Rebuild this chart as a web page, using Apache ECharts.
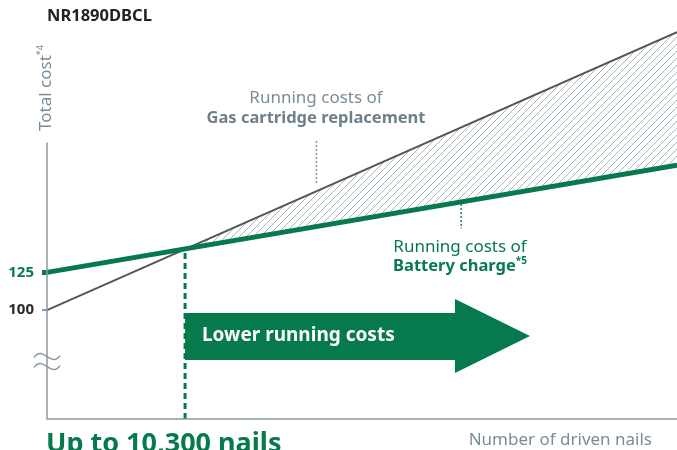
<!DOCTYPE html>
<html>
<head>
<meta charset="utf-8">
<script src="https://cdn.jsdelivr.net/npm/echarts@6/dist/echarts.min.js"></script>
<style>
  html, body { margin: 0; padding: 0; background: #fff; }
  #main { width: 677px; height: 450px; }
</style>
</head>
<body>
<div id="main"></div>
<script>
// 打钉数（千本）と総コスト
const nailsX = [0, 47];
const gasCost = [100, 284];
const batteryCost = [125, 196];
const breakEvenNails = 10.3;
const breakEvenCost = 141;
const yLabelsGray = [100];
const yLabelsGreen = [125];
const yMin = 28, yMax = 292, yAxisTop = 211;

const GREEN = '#06794d';
const AXIS = '#8999a5';
const TEXT_GRAY = '#7a8c98';
const FONT = '"Noto Sans", "Open Sans", sans-serif';

const toPairs = (xs, ys) => xs.map((x, i) => [x, ys[i]]);

// 斜線パターン
const hatch = document.createElement('canvas');
hatch.width = 7; hatch.height = 7;
const hctx = hatch.getContext('2d');
hctx.strokeStyle = '#a6b7c2';
hctx.lineWidth = 1;
hctx.beginPath();
hctx.moveTo(0, 7); hctx.lineTo(7, 0);
hctx.moveTo(-1, 1); hctx.lineTo(1, -1);
hctx.moveTo(6, 8); hctx.lineTo(8, 6);
hctx.stroke();

const chart = echarts.init(document.getElementById('main'));

function yAxisOf(values, color, tickColor, tickWidth) {
  return {
    type: 'value', min: yMin, max: yMax, position: 'left',
    axisLine: { show: false },
    splitLine: { show: false },
    axisTick: { show: true, customValues: values, length: 5, lineStyle: { color: tickColor, width: tickWidth } },
    axisLabel: {
      customValues: values, margin: 13, color: color,
      fontFamily: FONT, fontSize: 15, fontWeight: 'bold'
    }
  };
}

const option = {
  animation: false,
  grid: { left: 47, right: 0, top: 20, bottom: 31 },
  xAxis: {
    type: 'value', min: nailsX[0], max: nailsX[1], z: 5,
    axisLine: { show: true, lineStyle: { color: AXIS, width: 1.5 } },
    axisTick: { show: false },
    axisLabel: { show: false },
    splitLine: { show: false }
  },
  yAxis: [
    yAxisOf(yLabelsGray, '#2a2a2a', AXIS, 2),
    yAxisOf(yLabelsGreen, GREEN, GREEN, 5)
  ],
  series: [
    { // 斜線エリア
      type: 'line', data: toPairs(nailsX, gasCost), symbol: 'none', silent: true,
      lineStyle: { width: 0 },
      areaStyle: { origin: 'start', opacity: 1, color: { image: hatch, repeat: 'repeat' } }
    },
    { // バッテリー線より下を白で塗る
      type: 'line', data: toPairs(nailsX, batteryCost), symbol: 'none', silent: true,
      lineStyle: { width: 0 },
      areaStyle: { origin: 'start', opacity: 1, color: '#fff' }
    },
    {
      name: 'Gas cartridge replacement', type: 'line', data: toPairs(nailsX, gasCost),
      symbol: 'none', z: 3, lineStyle: { color: '#555', width: 2 }
    },
    {
      name: 'Battery charge', type: 'line', data: toPairs(nailsX, batteryCost),
      symbol: 'none', z: 4, lineStyle: { color: GREEN, width: 5 }
    },
    { // 損益分岐点の点線
      type: 'line', data: [[breakEvenNails, yMin], [breakEvenNails, breakEvenCost]],
      symbol: 'none', z: 3, lineStyle: { color: GREEN, width: 3, type: [6, 4] }
    }
  ]
};
chart.setOption(option);

const p = (x, y) => chart.convertToPixel({ gridIndex: 0 }, [x, y]);
const axTop = p(0, yAxisTop), axBot = p(0, yMin);
const brk = p(0, 66);
const be = p(breakEvenNails, yMin);
const gasLead = [p(20.1, 212), p(20.1, 183)];
const batLead = [p(30.9, 173), p(30.9, 154)];

const bx = be[0];
const arrowPts = [
  [bx, 313], [455, 313], [455, 299], [530, 336], [455, 373], [455, 360], [bx, 360]
];

const cx = brk[0], cy = brk[1];
const wave = (y) => ({
  type: 'bezierCurve', z: 10,
  shape: { x1: cx - 13, y1: y + 1, cpx1: cx - 4, cpy1: y - 12, cpx2: cx + 4, cpy2: y + 12, x2: cx + 13, y2: y - 1 },
  style: { fill: 'none', stroke: AXIS, lineWidth: 1.5 }
});

chart.setOption({
  graphic: [
    { type: 'line', z: 10, shape: { x1: axTop[0], y1: axTop[1], x2: axBot[0], y2: axBot[1] },
      style: { stroke: AXIS, lineWidth: 1.5 } },
    wave(cy - 5),
    wave(cy + 5),
    { type: 'line', z: 10, shape: { x1: gasLead[0][0], y1: gasLead[0][1], x2: gasLead[1][0], y2: gasLead[1][1] },
      style: { stroke: '#7f909c', lineWidth: 1.5, lineDash: [2, 2] } },
    { type: 'line', z: 10, shape: { x1: batLead[0][0], y1: batLead[0][1], x2: batLead[1][0], y2: batLead[1][1] },
      style: { stroke: GREEN, lineWidth: 1.5, lineDash: [2, 2] } },
    { type: 'polygon', z: 10, shape: { points: arrowPts }, style: { fill: GREEN } },
    { type: 'text', z: 11, x: 202, y: 336,
      style: { text: 'Lower running costs', fill: '#fff', font: 'bold 19px ' + FONT, verticalAlign: 'middle' } },
    { type: 'text', z: 11, x: 47, y: 16,
      style: { text: 'NR1890DBCL', fill: '#222', font: 'bold 16.5px ' + FONT, verticalAlign: 'middle' } },
    { type: 'text', z: 11, x: 46, y: 88, rotation: Math.PI / 2,
      style: {
        text: '{a|Total cost}{s|*4}', align: 'center', verticalAlign: 'middle',
        rich: {
          a: { fontFamily: FONT, fontSize: 17, fill: TEXT_GRAY, lineHeight: 20 },
          s: { fontFamily: FONT, fontSize: 9, fill: TEXT_GRAY, verticalAlign: 'top', lineHeight: 20 }
        }
      } },
    { type: 'text', z: 11, x: 316, y: 98,
      style: { text: 'Running costs of', fill: TEXT_GRAY, font: '17px ' + FONT, align: 'center', verticalAlign: 'middle' } },
    { type: 'text', z: 11, x: 316, y: 118,
      style: { text: 'Gas cartridge replacement', fill: '#6c7f8b', font: 'bold 16.5px ' + FONT, align: 'center', verticalAlign: 'middle' } },
    { type: 'text', z: 11, x: 460, y: 247,
      style: { text: 'Running costs of', fill: GREEN, font: '17px ' + FONT, align: 'center', verticalAlign: 'middle' } },
    { type: 'text', z: 11, x: 460, y: 266,
      style: {
        text: '{a|Battery charge}{s|*5}', align: 'center', verticalAlign: 'middle',
        rich: {
          a: { fontFamily: FONT, fontSize: 16.5, fontWeight: 'bold', fill: GREEN, lineHeight: 20 },
          s: { fontFamily: FONT, fontSize: 10, fontWeight: 'bold', fill: GREEN, verticalAlign: 'top', lineHeight: 20 }
        }
      } },
    { type: 'text', z: 11, x: 652, y: 440,
      style: { text: 'Number of driven nails', fill: TEXT_GRAY, font: '17px ' + FONT, align: 'right', verticalAlign: 'middle' } },
    { type: 'text', z: 11, x: 46, y: 444,
      style: { text: 'Up to 10,300 nails', fill: GREEN, font: 'bold 27px ' + FONT, verticalAlign: 'middle' } }
  ]
});
</script>
</body>
</html>
